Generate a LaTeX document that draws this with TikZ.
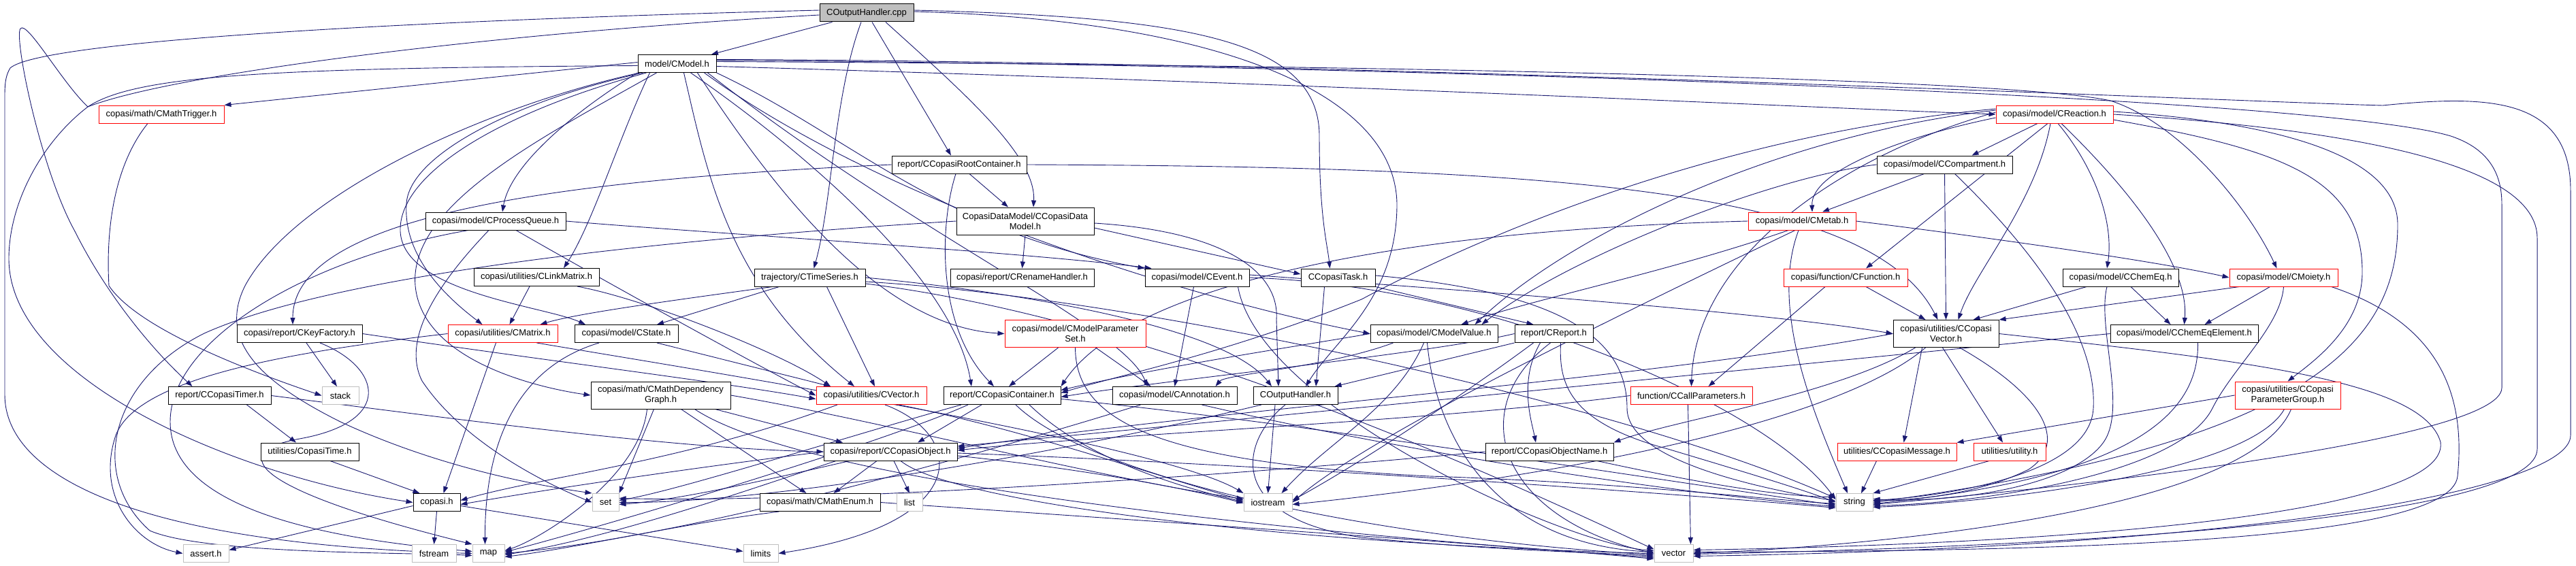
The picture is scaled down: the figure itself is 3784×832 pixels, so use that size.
\documentclass[tikz,border=0pt]{standalone}
\usepackage{fontspec}
\setmainfont{Liberation Sans}
\usetikzlibrary{arrows.meta,backgrounds}
\definecolor{edgec}{HTML}{191970}
\definecolor{leafc}{HTML}{BFBFBF}
\begin{document}
\begin{tikzpicture}[x=1pt,y=-1pt,
  nd/.style={draw=black, line width=1pt, fill=white, inner sep=0pt, minimum height=26pt, font=\fontsize{13pt}{15pt}\selectfont, align=center},
  rd/.style={nd, draw=red},
  lf/.style={nd, draw=leafc},
  tw/.style={minimum height=40pt},
  e/.style={draw=edgec, line width=0.9pt, -{Triangle[length=10pt,width=7pt]}}]
\useasboundingbox (0,0) rectangle (3784,832);
% nodes
\node[nd, fill=leafc, minimum width=138pt] (OHcpp) at (1273,19) {COutputHandler.cpp};
\node[nd, minimum width=115pt] (CModel) at (994.5,93.5) {model/CModel.h};
\node[rd, minimum width=184pt] (MTrig) at (237,168) {copasi/math/CMathTrigger.h};
\node[nd, minimum width=198pt] (Root) at (1409,242) {report/CCopasiRootContainer.h};
\node[nd, tw, minimum width=202pt] (DM) at (1506,325) {CopasiDataModel/CCopasiData\\Model.h};
\node[nd, minimum width=206pt] (PQ) at (728,325) {copasi/model/CProcessQueue.h};
\node[nd, minimum width=184pt] (LM) at (788,407.5) {copasi/utilities/CLinkMatrix.h};
\node[nd, minimum width=163pt] (TS) at (1189.5,408) {trajectory/CTimeSeries.h};
\node[nd, minimum width=211pt] (RH) at (1501.5,408) {copasi/report/CRenameHandler.h};
\node[nd, minimum width=153pt] (Ev) at (1758.5,408) {copasi/model/CEvent.h};
\node[nd, minimum width=109pt] (Task) at (1965.5,408) {CCopasiTask.h};
\node[rd, minimum width=172pt] (Reac) at (3018,168) {copasi/model/CReaction.h};
\node[nd, minimum width=199pt] (Comp) at (2856.5,242) {copasi/model/CCompartment.h};
\node[rd, minimum width=158pt] (Metab) at (2647,325) {copasi/model/CMetab.h};
\node[rd, minimum width=182pt] (Func) at (2711,408) {copasi/function/CFunction.h};
\node[nd, minimum width=170pt] (CEq) at (3115,408) {copasi/model/CChemEq.h};
\node[rd, minimum width=159pt] (Moi) at (3354.5,408) {copasi/model/CMoiety.h};
\node[nd, minimum width=184pt] (KF) at (440,490.5) {copasi/report/CKeyFactory.h};
\node[rd, minimum width=161pt] (Mat) at (738.5,490.5) {copasi/utilities/CMatrix.h};
\node[nd, minimum width=152pt] (St) at (920,490.5) {copasi/model/CState.h};
\node[rd, tw, minimum width=207pt] (MPS) at (1579.5,490.5) {copasi/model/CModelParameter\\Set.h};
\node[nd, minimum width=187pt] (MV) at (2106.5,490.5) {copasi/model/CModelValue.h};
\node[nd, minimum width=115pt] (Rep) at (2282.5,490.5) {report/CReport.h};
\node[nd, tw, minimum width=155pt] (CV) at (2858.5,490.5) {copasi/utilities/CCopasi\\Vector.h};
\node[nd, minimum width=217pt] (CEE) at (3208.5,490.5) {copasi/model/CChemEqElement.h};
\node[nd, minimum width=151pt] (Tim) at (322.5,581.5) {report/CCopasiTimer.h};
\node[lf, minimum width=54pt] (stk) at (500,581.5) {stack};
\node[nd, tw, minimum width=205pt] (MDG) at (970.5,581) {copasi/math/CMathDependency\\Graph.h};
\node[rd, minimum width=162pt] (Vec) at (1280,581.5) {copasi/utilities/CVector.h};
\node[nd, minimum width=172pt] (Cont) at (1472,581.5) {report/CCopasiContainer.h};
\node[nd, minimum width=183pt] (Ann) at (1725.5,581.5) {copasi/model/CAnnotation.h};
\node[nd, minimum width=124pt] (OHh) at (1903,581.5) {COutputHandler.h};
\node[rd, minimum width=179pt] (CP) at (2484.5,581.5) {function/CCallParameters.h};
\node[rd, tw, minimum width=155pt] (PG) at (3360.5,581) {copasi/utilities/CCopasi\\ParameterGroup.h};
\node[nd, minimum width=144pt] (CT) at (455,664) {utilities/CopasiTime.h};
\node[nd, minimum width=196pt] (Obj) at (1308,664) {copasi/report/CCopasiObject.h};
\node[nd, minimum width=188pt] (ON) at (2276,664) {report/CCopasiObjectName.h};
\node[rd, minimum width=175pt] (Msg) at (2786.5,664) {utilities/CCopasiMessage.h};
\node[rd, minimum width=106pt] (util) at (2952,664) {utilities/utility.h};
\node[nd, minimum width=69pt] (cop) at (641.5,738.5) {copasi.h};
\node[lf, minimum width=39pt] (set) at (889.5,738.5) {set};
\node[nd, minimum width=177pt] (ME) at (1204.5,738.5) {copasi/math/CMathEnum.h};
\node[lf, minimum width=38pt] (list) at (1336,738.5) {list};
\node[lf, minimum width=71pt] (ios) at (1862.5,738.5) {iostream};
\node[lf, minimum width=54pt] (str) at (2724,738.5) {string};
\node[lf, minimum width=67pt] (ass) at (302.5,813.5) {assert.h};
\node[lf, minimum width=65pt] (fst) at (637.5,813.5) {fstream};
\node[lf, minimum width=47pt] (map) at (717.5,813.5) {map};
\node[lf, minimum width=51pt] (lim) at (1117.5,813.5) {limits};
\node[lf, minimum width=57pt] (vec) at (2458.5,813.5) {vector};
\begin{pgfonlayer}{background}
% COutputHandler.cpp
\draw[e] (OHcpp) -- (CModel);
\draw[e] ([xshift=-8pt]OHcpp.south) .. controls (1225,140) and (1222,300) .. ([xshift=6pt]TS.north);
\draw[e] ([xshift=8pt]OHcpp.south) -- ([xshift=-12pt]Root.north);
\draw[e] ([xshift=28pt]OHcpp.south) .. controls (1420,140) and (1522,230) .. ([xshift=12pt]DM.north);
\draw[e] ([yshift=4pt]OHcpp.east) .. controls (1750,25) and (1938,60) .. (1938,200) .. controls (1938,320) and (1950,360) .. ([xshift=-12pt]Task.north);
\draw[e] ([yshift=2pt]OHcpp.east) .. controls (1800,30) and (2050,140) .. (2052,300) .. controls (2052,440) and (1960,500) .. ([xshift=15pt]OHh.north);
\draw[e] ([yshift=4pt]OHcpp.west) .. controls (600,30) and (60,60) .. (15,100) .. controls (6,115) and (7,130) .. (7,160) -- (7,580) .. controls (7,700) and (200,800) .. (map.west);
\draw[e] ([yshift=-3pt]OHcpp.west) .. controls (700,50) and (250,110) .. (129,157) .. controls (90,120) and (40,30) .. (30,42) .. controls (20,55) and (60,250) .. (110,340) .. controls (160,440) and (230,520) .. ([xshift=-40pt]Tim.north);
% CModel
\draw[e] ([yshift=2pt]CModel.west) -- (MTrig.north east);
\draw[e] ([yshift=-3pt]CModel.west) .. controls (400,100) and (200,110) .. (129,157) .. controls (60,210) and (13,300) .. (13,380) .. controls (13,560) and (350,700) .. (cop.west);
\draw[e] (CModel.south west) .. controls (850,160) and (750,240) .. ([xshift=10pt]PQ.north);
\draw[e] ([xshift=-40pt]CModel.south) .. controls (910,200) and (870,330) .. ([xshift=40pt]LM.north);
\draw[e] ([xshift=-50pt]CModel.south) .. controls (750,150) and (600,230) .. (597,300) .. controls (592,380) and (660,440) .. ([xshift=-30pt]Mat.north);
\draw[e] ([xshift=-45pt]CModel.south) .. controls (720,170) and (585,260) .. (588,340) .. controls (592,430) and (800,450) .. ([xshift=-60pt]St.north);
\draw[e] ([xshift=-30pt]CModel.south) .. controls (800,200) and (600,300) .. (610,420) .. controls (620,530) and (790,570) .. (MDG.west);
\draw[e] ([xshift=-55pt]CModel.south) .. controls (700,160) and (430,290) .. (360,420) .. controls (320,500) and (380,560) .. (500,620) .. controls (650,690) and (800,715) .. (set.north west);
\draw[e] ([xshift=10pt]CModel.south) .. controls (1040,260) and (1070,420) .. ([xshift=-25pt]Vec.north);
\draw[e] ([xshift=30pt]CModel.south) .. controls (1150,300) and (1300,480) .. (MPS.west);
\draw[e] ([xshift=20pt]CModel.south) .. controls (1150,200) and (1400,400) .. ([xshift=-45pt]Cont.north);
\draw[e] (CModel.south east) .. controls (1250,200) and (1380,340) .. (Ev.north west);
\draw[e] ([xshift=40pt]CModel.south) .. controls (1300,300) and (1750,440) .. (MV.west);
\draw[e] ([xshift=45pt]CModel.south) .. controls (1350,350) and (1650,480) .. ([xshift=-40pt]Ann.north);
\draw[e] ([yshift=-4pt]CModel.east) .. controls (2000,125) and (2700,160) .. (Reac.west);
\draw[e] ([yshift=3pt]CModel.east) .. controls (2000,95) and (2950,115) .. (3100,148) .. controls (3200,180) and (3300,300) .. ([xshift=-10pt]Moi.north);
\draw[e] ([yshift=6pt]CModel.east) .. controls (2000,90) and (3300,150) .. (3500,155) .. controls (3650,140) and (3776,140) .. (3776,280) -- (3776,640) .. controls (3776,720) and (3300,805) .. ([yshift=-4pt]vec.east);
\draw[e] ([yshift=5pt]CModel.east) .. controls (2000,95) and (3400,140) .. (3600,200) .. controls (3660,220) and (3675,260) .. (3675,300) -- (3675,570) .. controls (3675,650) and (3000,720) .. ([yshift=-3pt]str.east);
% MathTrigger
\draw[e] ([xshift=-20pt]MTrig.south) .. controls (170,240) and (155,330) .. (160,420) .. controls (200,480) and (350,540) .. (stk.west);
% RootContainer
\draw[e] (Root.west) .. controls (800,265) and (430,320) .. ([xshift=-10pt]KF.north);
\draw[e] ([xshift=15pt]Root.south) -- ([xshift=-25pt]DM.north);
\draw[e] ([xshift=-5pt]Root.south) .. controls (1380,330) and (1375,480) .. ([xshift=-12pt]Cont.north);
\draw[e] (Root.east) .. controls (2300,245) and (2750,280) .. ([xshift=-12pt]CV.north);
% DataModel
\draw[e] (DM.south) -- (RH.north);
\draw[e] ([yshift=-10pt]DM.east) -- ([yshift=5pt]Task.west);
\draw[e] ([yshift=-3pt]DM.east) .. controls (1800,340) and (1880,400) .. (1875,470) -- ([xshift=-25pt]OHh.north);
\draw[e] (DM.west) .. controls (1000,350) and (500,400) .. (300,490) .. controls (160,560) and (130,700) .. (220,780) .. controls (300,815) and (600,812) .. ([yshift=-3pt]map.west);
% ProcessQueue
\draw[e] (PQ.east) .. controls (1000,340) and (1500,370) .. ([xshift=10pt]Ev.north west);
\draw[e] ([xshift=-40pt]PQ.south) .. controls (450,380) and (250,500) .. (250,620) .. controls (250,740) and (450,790) .. ([yshift=3pt]map.west);
\draw[e] ([xshift=-10pt]PQ.south) .. controls (640,420) and (590,500) .. (620,560) .. controls (680,650) and (800,710) .. (set.west);
\draw[e] ([xshift=30pt]PQ.south) .. controls (900,420) and (1100,530) .. (Vec.west);
% LinkMatrix
\draw[e] ([xshift=-10pt]LM.south) -- ([xshift=10pt]Mat.north);
\draw[e] ([xshift=60pt]LM.south) .. controls (950,440) and (1150,520) .. ([xshift=-60pt]Vec.north);
% TimeSeries
\draw[e] ([xshift=-55pt]TS.south) .. controls (1000,440) and (850,460) .. ([xshift=55pt]Mat.north);
\draw[e] ([xshift=-45pt]TS.south) -- ([xshift=45pt]St.north);
\draw[e] ([xshift=25pt]TS.south) -- ([xshift=5pt]Vec.north);
\draw[e] (TS.east) .. controls (1500,430) and (1800,480) .. ([xshift=-35pt]OHh.north);
\draw[e] ([yshift=-6pt]TS.east) .. controls (1700,440) and (2400,600) .. ([yshift=6pt]str.west);
\draw[e] ([yshift=-9pt]TS.east) .. controls (1700,470) and (2200,700) .. ([yshift=6pt]vec.west);
% Event
\draw[e] ([xshift=-5pt]Ev.south) -- (Ann.north);
\draw[e] (Ev.east) .. controls (2200,420) and (2600,600) .. ([yshift=4pt]str.west);
\draw[e] ([xshift=60pt]Ev.south) .. controls (1850,600) and (2300,800) .. ([yshift=4pt]vec.west);
\draw[e] ([yshift=4pt]Ev.east) .. controls (2200,430) and (2600,460) .. (CV.west);
% Task
\draw[e] ([xshift=-20pt]Task.south) -- ([xshift=30pt]OHh.north);
\draw[e] (Task.south east) -- ([xshift=-30pt]Rep.north);
\draw[e] ([yshift=3pt]Task.east) .. controls (2300,430) and (2390,500) .. (2390,600) .. controls (2390,680) and (2600,720) .. ([yshift=2pt]str.west);
% Reaction
\draw[e] ([xshift=-25pt]Reac.south) -- ([xshift=40pt]Comp.north);
\draw[e] ([yshift=-5pt]Reac.west) .. controls (2800,200) and (2660,250) .. ([xshift=15pt]Metab.north);
\draw[e] ([xshift=-10pt]Reac.south) -- ([xshift=30pt]Func.north);
\draw[e] ([xshift=5pt]Reac.south) .. controls (3080,250) and (3105,330) .. ([xshift=-20pt]CEq.north);
\draw[e] ([xshift=-6pt]Reac.south) .. controls (2990,300) and (2900,400) .. ([xshift=18pt]CV.north);
\draw[e] ([xshift=10pt]Reac.south) .. controls (3150,300) and (3215,400) .. (CEE.north);
\draw[e] ([yshift=-8pt]Reac.east) .. controls (3350,220) and (3470,260) .. (3470,400) .. controls (3470,480) and (3400,530) .. (PG.north);
\draw[e] ([yshift=4pt]Reac.east) .. controls (3350,180) and (3522,230) .. (3522,330) .. controls (3522,500) and (3400,650) .. ([yshift=0pt]str.east);
\draw[e] (Reac.east) .. controls (3450,190) and (3727,240) .. (3727,350) -- (3727,660) .. controls (3727,750) and (3200,800) .. ([yshift=-1pt]vec.east);
\draw[e] ([yshift=3pt]Reac.west) .. controls (2700,230) and (2490,380) .. (CP.north);
\draw[e] ([yshift=6pt]Reac.west) .. controls (2600,200) and (2300,350) .. ([xshift=60pt]MV.north);
\draw[e] ([yshift=8pt]Reac.west) .. controls (2500,200) and (2150,360) .. (2000,440) .. controls (1800,520) and (1650,550) .. ([yshift=4pt]Cont.east);
% Compartment
\draw[e] ([xshift=-30pt]Comp.south) -- ([xshift=30pt]Metab.north);
\draw[e] (Comp.south) -- (CV.north);
\draw[e] ([xshift=15pt]Comp.south) .. controls (3000,380) and (3080,500) .. (3075,600) .. controls (3070,700) and (2850,730) .. ([yshift=3pt]str.east);
\draw[e] (Comp.west) .. controls (2600,260) and (2300,380) .. ([xshift=70pt]MV.north);
% Metab
\draw[e] (Metab.east) .. controls (2850,340) and (3150,380) .. (Moi.west);
\draw[e] ([xshift=-20pt]Metab.south) .. controls (2450,400) and (2250,440) .. ([xshift=40pt]MV.north);
\draw[e] (Metab.west) .. controls (2000,340) and (1650,430) .. (Cont.north east);
\draw[e] ([xshift=-10pt]Metab.south) .. controls (2300,500) and (2000,650) .. (ios.east);
\draw[e] ([xshift=-5pt]Metab.south) .. controls (2600,450) and (2660,600) .. ([xshift=-10pt]str.north);
% Function
\draw[e] ([xshift=-30pt]Func.south) -- ([xshift=25pt]CP.north);
\draw[e] ([xshift=30pt]Func.south) -- ([xshift=-30pt]CV.north);
% ChemEq
\draw[e] ([xshift=-50pt]CEq.south) -- ([xshift=40pt]CV.north);
\draw[e] ([xshift=15pt]CEq.south) -- ([xshift=-20pt]CEE.north);
\draw[e] ([xshift=-20pt]CEq.south) .. controls (3080,480) and (3125,600) .. (3090,650) .. controls (3040,720) and (2850,740) .. ([yshift=5pt]str.east);
% Moiety
\draw[e] ([xshift=-65pt]Moi.south) -- (CV.north east);
\draw[e] ([xshift=-20pt]Moi.south) -- ([xshift=30pt]CEE.north);
\draw[e] (Moi.south) .. controls (3350,480) and (3280,540) .. (3250,600) .. controls (3200,700) and (2900,740) .. ([yshift=-5pt]str.east);
\draw[e] ([xshift=70pt]Moi.south) .. controls (3600,480) and (3620,600) .. (3610,700) .. controls (3600,800) and (3000,810) .. ([yshift=2pt]vec.east);
% KeyFactory
\draw[e] ([xshift=10pt]KF.south) -- ([xshift=-5pt]stk.north);
\draw[e] ([xshift=30pt]KF.south) .. controls (560,540) and (580,620) .. (440,645) .. controls (330,665) and (370,720) .. (map.north west);
\draw[e] (KF.east) .. controls (800,530) and (1050,560) .. ([yshift=-5pt]Vec.west);
% Matrix
\draw[e] ([xshift=-10pt]Mat.south) -- ([xshift=10pt]cop.north);
\draw[e] (Mat.west) .. controls (400,520) and (200,560) .. (170,640) .. controls (140,730) and (200,800) .. (ass.west);
\draw[e] ([xshift=50pt]Mat.south) .. controls (1000,540) and (1700,650) .. (ios.north west);
% State
\draw[e] ([xshift=45pt]St.south) -- ([xshift=-60pt]Vec.north);
\draw[e] ([xshift=-40pt]St.south) .. controls (760,540) and (712,650) .. ([xshift=-5pt]map.north);
% ModelParameterSet
\draw[e] ([xshift=-25pt]MPS.south) -- ([xshift=10pt]Cont.north);
\draw[e] ([xshift=30pt]MPS.south) -- ([xshift=-35pt]Ann.north);
\draw[e] (MPS.south) .. controls (1580,620) and (1700,680) .. (2100,700) .. controls (2400,710) and (2600,735) .. ([yshift=-2pt]str.west);
% ModelValue
\draw[e] ([xshift=-60pt]MV.south) .. controls (1950,540) and (1800,550) .. ([xshift=60pt]Ann.north);
\draw[e] (MV.west) .. controls (1900,510) and (1700,540) .. ([yshift=8pt]Cont.east);
\draw[e] ([xshift=-15pt]MV.south) .. controls (2050,600) and (1950,650) .. ([xshift=20pt]ios.north);
\draw[e] ([xshift=-10pt]MV.south) .. controls (2110,650) and (2200,800) .. ([yshift=2pt]vec.west);
% Report
\draw[e] (Rep.south west) -- ([xshift=-5pt]OHh.north east);
\draw[e] ([xshift=-20pt]Rep.south) .. controls (2230,560) and (2250,620) .. ([xshift=-20pt]ON.north);
\draw[e] ([xshift=10pt]Rep.south) .. controls (2290,560) and (2300,620) .. (2450,660) .. controls (2550,690) and (2650,720) .. ([yshift=0pt]str.west);
\draw[e] ([xshift=-30pt]Rep.south) .. controls (2150,580) and (2000,680) .. ([yshift=3pt]ios.east);
\draw[e] ([xshift=-5pt]Rep.south) .. controls (2150,600) and (2200,760) .. (vec.west);
\draw[e] (Rep.west) .. controls (2100,520) and (1700,560) .. ([yshift=-2pt]Cont.east);
% CopasiVector
\draw[e] ([xshift=-35pt]CV.south) -- ([xshift=10pt]Msg.north);
\draw[e] ([xshift=-5pt]CV.south) -- ([xshift=-10pt]util.north);
\draw[e] ([xshift=-45pt]CV.south) .. controls (2700,580) and (2450,620) .. (ON.north east);
\draw[e] ([xshift=20pt]CV.south) .. controls (3000,580) and (3040,650) .. (2980,690) .. controls (2900,730) and (2800,735) .. ([yshift=2pt]str.east);
\draw[e] ([xshift=-30pt]CV.south) .. controls (2700,620) and (2300,700) .. ([yshift=-3pt]ios.east);
\draw[e] (CV.east) .. controls (3300,530) and (3560,560) .. (3585,650) .. controls (3600,760) and (3000,800) .. ([yshift=5pt]vec.east);
\draw[e] (CV.west) .. controls (2400,560) and (1800,600) .. ([yshift=5pt]Obj.east);
% ChemEqElement
\draw[e] ([xshift=20pt]CEE.south) .. controls (3230,600) and (3150,700) .. ([yshift=-2pt]str.east);
\draw[e] (CEE.west) .. controls (2800,520) and (2000,600) .. ([yshift=8pt]Obj.east);
% Timer
\draw[e] ([xshift=40pt]Tim.south) -- ([xshift=-20pt]CT.north);
\draw[e] (Tim.east) .. controls (700,620) and (1000,660) .. (Obj.west);
% MathDependencyGraph
\draw[e] ([xshift=-10pt]MDG.south) -- (set.north east);
\draw[e] ([xshift=-20pt]MDG.south) .. controls (940,700) and (800,790) .. ([yshift=4pt]map.east);
\draw[e] ([xshift=30pt]MDG.south) -- ([xshift=-20pt]ME.north);
\draw[e] ([xshift=80pt]MDG.south) -- ([xshift=-70pt]Obj.north);
\draw[e] (MDG.east) .. controls (1300,620) and (1600,700) .. ([yshift=5pt]ios.west);
\draw[e] ([xshift=50pt]MDG.south) .. controls (1200,720) and (2000,790) .. ([yshift=-6pt]vec.west);
% CVector
\draw[e] ([xshift=-50pt]Vec.south) .. controls (1000,680) and (800,700) .. ([yshift=3pt]cop.east);
\draw[e] ([xshift=20pt]Vec.south) .. controls (1420,640) and (1430,770) .. (lim.east);
\draw[e] ([xshift=40pt]Vec.south) .. controls (1500,630) and (1700,700) .. ([yshift=3pt]ios.west);
% Container
\draw[e] ([xshift=-30pt]Cont.south) -- ([xshift=40pt]Obj.north);
\draw[e] ([xshift=-50pt]Cont.south) .. controls (1300,650) and (900,770) .. ([yshift=2pt]map.east);
\draw[e] ([xshift=-60pt]Cont.south) .. controls (1250,640) and (1000,720) .. ([yshift=3pt]set.east);
\draw[e] ([xshift=40pt]Cont.south) .. controls (1600,680) and (1750,720) .. ([yshift=1pt]ios.west);
\draw[e] ([yshift=-5pt]Cont.east) .. controls (1900,620) and (2400,700) .. ([yshift=-4pt]str.west);
\draw[e] ([xshift=20pt]Cont.south) .. controls (1600,700) and (2000,790) .. ([yshift=-2pt]vec.west);
% Annotation
\draw[e] ([xshift=40pt]Ann.south) .. controls (2000,650) and (2400,720) .. ([yshift=-6pt]str.west);
\draw[e] ([xshift=-50pt]Ann.south) .. controls (1400,680) and (1000,790) .. ([yshift=0pt]map.east);
% COutputHandler.h
\draw[e] ([xshift=-30pt]OHh.south) -- (ios.north);
\draw[e] ([xshift=-50pt]OHh.south) .. controls (1500,680) and (1100,740) .. (set.east);
\draw[e] ([xshift=-15pt]OHh.south) .. controls (1820,650) and (1800,760) .. (2000,790) .. controls (2200,810) and (2350,812) .. ([yshift=-4pt]vec.west);
% CallParameters
\draw[e] ([xshift=-5pt]CP.south) -- ([xshift=25pt]vec.north);
\draw[e] (CP.west) .. controls (2100,620) and (1600,640) .. ([yshift=2pt]Obj.east);
% ParameterGroup
\draw[e] (PG.west) -- (Msg.north east);
\draw[e] ([xshift=-5pt]PG.south) .. controls (3300,700) and (2900,740) .. ([yshift=-7pt]str.east);
\draw[e] ([xshift=5pt]PG.south) .. controls (3300,760) and (2700,805) .. ([yshift=0pt]vec.east);
% CopasiTime
\draw[e] ([xshift=30pt]CT.south) -- ([xshift=-25pt]cop.north);
% CCopasiObject
\draw[e] ([xshift=-20pt]Obj.south) -- ([xshift=20pt]ME.north);
\draw[e] ([xshift=5pt]Obj.south) -- (list.north);
\draw[e] ([yshift=-6pt]Obj.east) .. controls (1600,690) and (1750,720) .. ([yshift=-1pt]ios.west);
\draw[e] ([yshift=-2pt]Obj.east) .. controls (1800,680) and (2400,720) .. ([yshift=-8pt]str.west);
\draw[e] ([xshift=15pt]Obj.south) .. controls (1400,740) and (1900,800) .. (vec.west);
\draw[e] ([xshift=-60pt]Obj.south) .. controls (1150,700) and (1000,735) .. ([yshift=-3pt]set.east);
\draw[e] ([xshift=-80pt]Obj.south) .. controls (1100,720) and (900,790) .. ([yshift=-2pt]map.east);
\draw[e] (Obj.west) .. controls (1000,690) and (800,720) .. ([yshift=-3pt]cop.east);
% ObjectName
\draw[e] ([xshift=70pt]ON.south) .. controls (2450,700) and (2600,730) .. ([yshift=8pt]str.west);
\draw[e] (ON.west) .. controls (1800,700) and (1200,740) .. ([yshift=6pt]set.east);
% Message, utility
\draw[e] ([xshift=-30pt]Msg.south) -- ([xshift=10pt]str.north);
\draw[e] ([xshift=-30pt]util.south) -- (str.north east);
% copasi.h
\draw[e] ([yshift=-5pt]cop.west) -- ([yshift=5pt]ass.east);
\draw[e] (cop.south) -- (fst.north);
\draw[e] ([yshift=-5pt]cop.east) -- ([yshift=3pt]lim.west);
% CMathEnum
\draw[e] ([xshift=-60pt]ME.south) .. controls (1000,770) and (850,805) .. ([yshift=-5pt]map.east);
\draw[e] (ME.east) .. controls (1600,760) and (2200,800) .. ([yshift=-8pt]vec.west);
\end{pgfonlayer}
\end{tikzpicture}
\end{document}
